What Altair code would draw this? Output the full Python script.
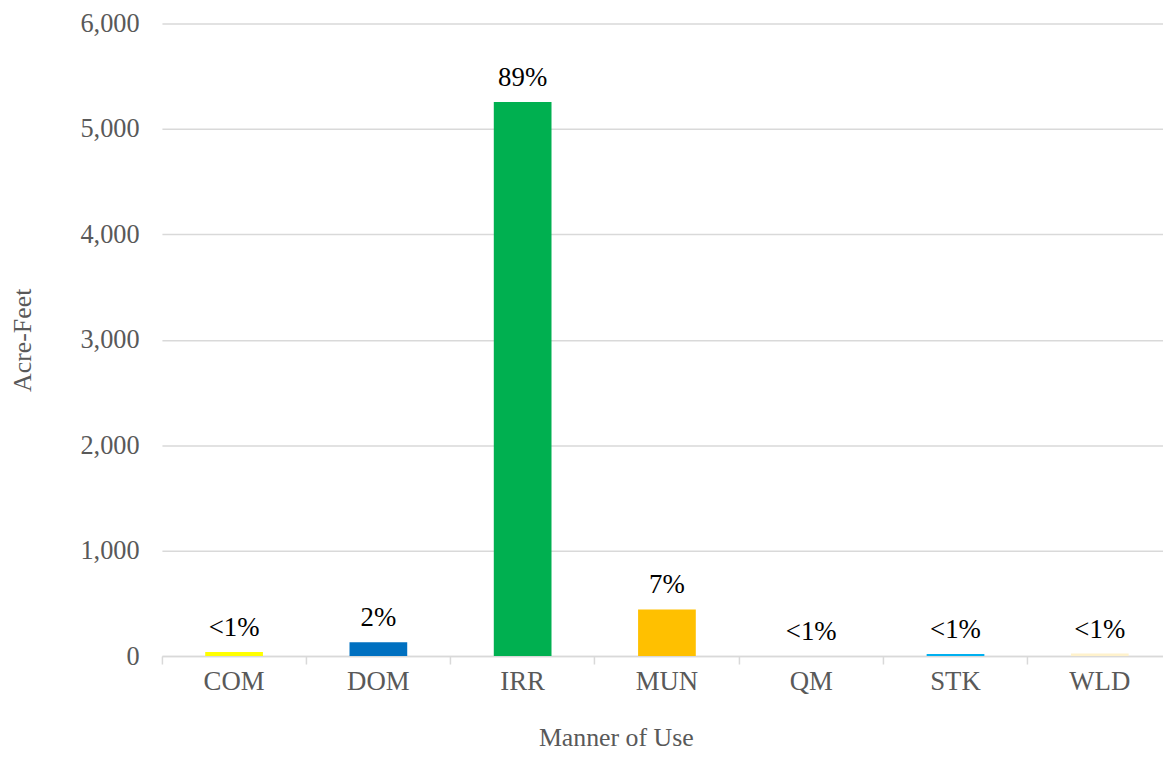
import altair as alt
import pandas as pd

categories = ["COM", "DOM", "IRR", "MUN", "QM", "STK", "WLD"]
values = [38, 132, 5256, 443, 2, 20, 25]
labels = ["<1%", "2%", "89%", "7%", "<1%", "<1%", "<1%"]
colors = ["#FFFF00", "#0070C0", "#00B050", "#FFC000", "#A5A5A5", "#00B0F0", "#FFF2CC"]

df = pd.DataFrame({"cat": categories, "val": values, "lab": labels, "col": colors})

FONT = "Liberation Serif"
GRAY = "#595959"

x = alt.X("cat:N", sort=categories, title="Manner of Use",
          scale=alt.Scale(paddingInner=0, paddingOuter=0, range=[0, 1017]),
          axis=alt.Axis(labelAngle=0, labelFont=FONT, labelFontSize=27, labelColor=GRAY,
                        titleFont=FONT, titleFontSize=26, titleColor=GRAY, titleFontWeight="normal",
                        titleX=457, titleY=90, titleBaseline="alphabetic", titleAlign="center",
                        labelPadding=5,
                        domainColor="#D9D9D9", domainWidth=1.5, tickColor="#D9D9D9", tickWidth=1.5,
                        tickSize=8, bandPosition=0, grid=False))

y = alt.Y("val:Q", title="Acre-Feet",
          scale=alt.Scale(domain=[0, 6000]),
          axis=alt.Axis(values=[0, 1000, 2000, 3000, 4000, 5000, 6000], format=",d",
                        labelFont=FONT, labelFontSize=26.5, labelColor=GRAY,
                        titleFont=FONT, titleFontSize=26, titleColor=GRAY, titleFontWeight="normal",
                        titlePadding=45, labelPadding=23,
                        ticks=False, domain=False, gridColor="#D9D9D9", gridWidth=1.5))

base = alt.Chart(df).encode(x=x, y=y)

bars = base.mark_bar(width=alt.RelativeBandSize(0.4)).encode(
    color=alt.Color("col:N", scale=None)
)

text = base.mark_text(font=FONT, fontSize=27, color="#000000", baseline="bottom", dy=-10).encode(
    text="lab:N"
)

chart = alt.layer(bars, text).properties(
    width=1008, height=637,
    padding={"left": 155, "top": 13, "right": 0, "bottom": 96},
    autosize=alt.AutoSizeParams(type="none"),
).configure(background="white").configure_view(stroke="transparent", strokeWidth=0)

chart.save("out.html", embed_options={"renderer": "svg", "actions": False})
